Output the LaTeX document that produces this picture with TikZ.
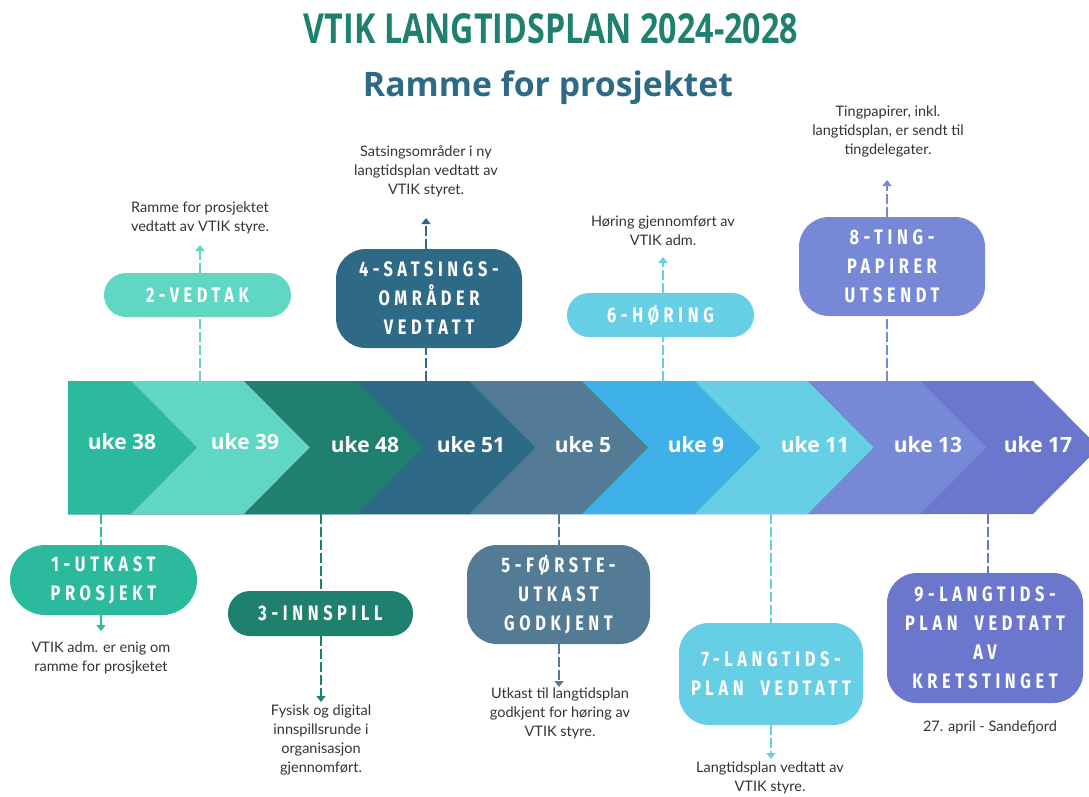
\documentclass[tikz,border=0pt]{standalone}
\usepackage{fontspec}
\usepackage{graphicx}
\usetikzlibrary{arrows.meta}
\setmainfont{Lato}
\newfontfamily\boxfont[LetterSpace=22,FakeStretch=0.78,WordSpace=2]{Fira Sans}
\newfontfamily\headfont{Open Sans}
\definecolor{c1}{HTML}{2BBA9E}
\definecolor{c2}{HTML}{5FD7C3}
\definecolor{c3}{HTML}{1F8070}
\definecolor{c4}{HTML}{2E6A85}
\definecolor{c5}{HTML}{537B95}
\definecolor{c6}{HTML}{3EB1E9}
\definecolor{c7}{HTML}{66CFE6}
\definecolor{c8}{HTML}{7788D7}
\definecolor{c9}{HTML}{6B77CD}
\definecolor{txt}{HTML}{333333}

\begin{document}
\begin{tikzpicture}[x=1pt, y=-1pt,
  box/.style = {fill=#1, text=white, inner sep=0pt, align=center,
    font=\boxfont\bfseries\fontsize{21}{29}\selectfont},
  uke/.style = {anchor=base, inner sep=0pt, text=white,
    font=\headfont\bfseries\fontsize{21}{25}\selectfont},
  note/.style = {anchor=north, inner sep=0pt, align=center, text=txt,
    font=\fontsize{14.5}{19}\selectfont},
  link/.style = {draw=#1, line width=2pt, dash pattern=on 10pt off 3pt},
  ptr/.style = {link=#1, -{Triangle[width=9pt,length=6pt]}}]
\useasboundingbox (0,0) rectangle (1089,796);

% headings
\node[anchor=base, text=c3, inner sep=0pt] (title) at (551,43)
  {\resizebox{494pt}{30pt}{\headfont\bfseries VTIK LANGTIDSPLAN 2024-2028}};
\node[anchor=base, text=c4, inner sep=0pt] (sub) at (548,96)
  {\resizebox{370pt}{!}{\headfont\bfseries Ramme for prosjektet}};

% chevrons, right to left so each tip lies on the next one
\foreach \i/\lx/\ly/\wk in {9/1038/452/17, 8/928/452/13, 7/815/452/11,
    6/696/452/9, 5/583/452/5, 4/471/452/51, 3/365/452/48, 2/245/449/39, 1/122/449/38} {
  \pgfmathsetmacro{\tr}{131+(\i-1)*112.75}
  \fill[c\i] (68,381) -- (\tr,381) -- (\tr+66,447.5) -- (\tr,514) -- (68,514) -- cycle;
  \node[uke] (u\i) at (\lx,\ly) {uke \wk};
}

% milestone boxes
\foreach \n/\col/\x/\y/\w/\h/\r/\txt in {
    1/c1/103.5/580/187/70/35/{1-UTKAST\\PROSJEKT},
    2/c2/197.5/295/187/44/22/{2-VEDTAK},
    3/c3/320.5/613.5/185/45/22/{3-INNSPILL},
    4/c4/429/298.5/186/99/30/{4-SATSINGS-\\OMRÅDER\\VEDTATT},
    5/c5/558.5/594.5/183/99/30/{5-FØRSTE-\\UTKAST\\GODKJENT},
    6/c7/660.5/315/187/44/22/{6-HØRING},
    7/c7/771/674/184/102/30/{7-LANGTIDS-\\PLAN VEDTATT},
    8/c8/892/266.5/186/99/30/{8-TING-\\PAPIRER\\UTSENDT},
    9/c9/985/638/196/130/30/{9-LANGTIDS-\\PLAN VEDTATT\\AV\\KRETSTINGET}}
  \node[box=\col, minimum width=\w pt, minimum height=\h pt, rounded corners=\r pt] (b\n) at (\x,\y) {\txt};

% notes
\foreach \n/\x/\y/\txt in {
    1/101/642/{VTIK adm. er enig om\\ramme for prosjketet},
    2/200/202/{Ramme for prosjektet\\vedtatt av VTIK styre.},
    3/321/705/{Fysisk og digital\\innspillsrunde i\\organisasjon\\gjennomført.},
    4/426/145/{Satsingsområder i ny\\langtidsplan vedtatt av\\VTIK styret.},
    5/560/688/{Utkast til langtidsplan\\godkjent for høring av\\VTIK styre.},
    6/663/216/{Høring gjennomført av\\VTIK adm.},
    7/770/762/{Langtidsplan vedtatt av\\VTIK styre.},
    8/888/106/{Tingpapirer, inkl.\\langtidsplan, er sendt til\\tingdelegater.},
    9/990/721/{27. april - Sandefjord}}
  \node[note] (t\n) at (\x,\y) {\txt};

% connectors
\foreach \n/\col/\x/\ya/\near/\far/\yb in {1/c1/101/514/north/south/631, 2/c2/200/381/south/north/245,
    3/c3/321/514/north/south/702, 4/c4/426/381/south/north/218, 5/c5/559/514/north/south/687,
    6/c7/663/381/south/north/257, 7/c7/771/514/north/south/759, 8/c8/887/381/south/north/180} {
  \coordinate (p\n) at (\x,\ya);
  \coordinate (a\n) at (\x,\yb);
  \draw[link=\col] (p\n) -- (p\n |- b\n.\near);
  \draw[ptr=\col] (a\n |- b\n.\far) -- (a\n);
}
\coordinate (p9) at (988,514);
\draw[link=c9] (p9) -- (p9 |- b9.north);
\end{tikzpicture}
\end{document}
